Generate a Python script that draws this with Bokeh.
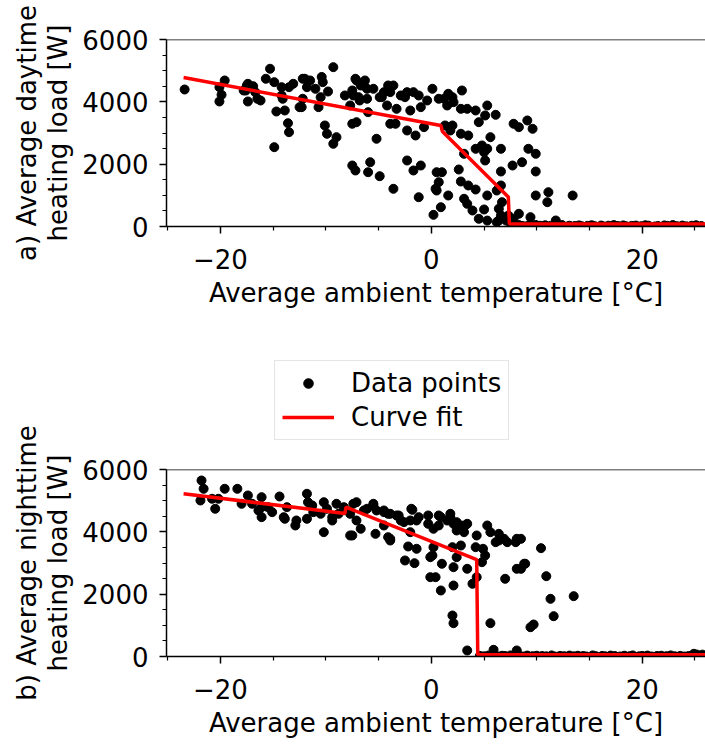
from bokeh.plotting import figure
from bokeh.models import Range1d, FixedTicker, Span, Legend, LegendItem, GridBox
from bokeh.embed import file_html
from bokeh.resources import INLINE

FONT = "DejaVu Sans"
FS = "26px"

# ---- axes ----
x_range_vals = (-25.12, 26.0)
y_range_vals = (0, 6000)
x_major = [-20, 0, 20]
x_major_labels = ["\u221220", "0", "20"]
x_minor = [-25, -15, -10, -5, 5, 10, 15, 25]
y_major = [0, 2000, 4000, 6000]
y_minor = [500, 1000, 1500, 2500, 3000, 3500, 4500, 5000, 5500]

x_title = "Average ambient temperature [\u00b0C]"
day_ylabel = "a) Average daytime\nheating load [W]"
night_ylabel = "b) Average nighttime\nheating load [W]"
legend_labels = ["Data points", "Curve fit"]

# ---- a) daytime data (temperature [°C], load [W]) ----
day_points = [
    (-23.4, 4396), (-20.1, 4470), (-19.6, 4685), (-19.9, 4226), (-20.1, 4011),
    (-17.4, 4579), (-17.6, 4364), (-16.9, 4502), (-17.4, 4011), (-16.5, 4098),
    (-16.2, 4043), (-15.3, 5061), (-15.7, 4740), (-14.9, 4631), (-14.2, 4470),
    (-13.5, 4470), (-13.1, 4579), (-14.1, 4098), (-14.7, 3690), (-13.9, 3722),
    (-13.6, 3315), (-13.5, 3026), (-14.9, 2545), (-12.2, 4740), (-12.5, 3829),
    (-12.2, 4098), (-17.5, 4525), (-17.8, 4364), (-16.7, 4311), (-14.2, 4204),
    (-9.3, 5112), (-12.0, 4740), (-11.5, 4685), (-11.8, 4470), (-11.0, 4419),
    (-10.4, 4798), (-10.3, 4631), (-9.8, 4332), (-10.5, 4150), (-10.7, 3829),
    (-12.3, 3829), (-10.1, 3241), (-9.9, 2975), (-9.0, 2866), (-9.3, 2654),
    (-8.2, 4204), (-7.5, 4364), (-7.2, 4740), (-6.3, 4685), (-6.7, 4525),
    (-6.1, 4419), (-5.5, 4419), (-6.9, 4150), (-6.1, 4098), (-7.7, 3883),
    (-6.0, 3668), (-7.5, 3296), (-7.1, 3347), (-5.2, 2815), (-7.5, 1957),
    (-7.2, 1797), (-5.8, 2063), (-6.0, 1742), (-4.9, 1614), (-3.6, 1210),
    (-4.7, 4150), (-3.9, 4311), (-3.6, 4525), (-2.9, 4204), (-2.3, 4311),
    (-1.7, 4311), (-1.2, 4204), (-4.2, 3883), (-3.3, 3776), (-2.0, 3722),
    (-1.0, 3829), (0.1, 4419), (0.7, 4098), (-3.4, 3296), (-2.3, 3081),
    (-1.5, 2920), (-0.7, 3187), (-2.3, 2118), (-1.7, 1797), (-1.0, 1957),
    (-1.2, 940), (0.2, 375), (0.5, 1742), (0.7, 1422), (0.5, 1155),
    (-7.1, 4685), (-6.4, 4525), (-7.4, 4204), (-6.8, 4043), (-4.9, 4150),
    (-4.5, 4311), (-4.1, 4525), (-2.5, 4150), (-0.4, 4043), (-3.9, 3296),
    (1.2, 4098), (1.6, 4258), (2.0, 4150), (2.1, 3990), (1.5, 3883),
    (2.9, 4364), (2.8, 3776), (3.4, 3776), (4.2, 3722), (5.3, 3883),
    (6.1, 3584), (5.1, 3562), (4.5, 3347), (1.3, 3241), (2.0, 3241),
    (1.8, 3081), (2.8, 2975), (3.5, 2920), (7.8, 3296), (8.3, 3187),
    (9.1, 3402), (9.6, 3135), (5.6, 2866), (4.2, 2493), (4.8, 2599),
    (5.3, 2493), (5.0, 2384), (3.1, 2333), (6.6, 2493), (5.1, 2118),
    (9.2, 2493), (9.9, 2333), (7.7, 1957), (8.6, 2063), (6.6, 1765),
    (9.9, 1765), (2.6, 1829), (1.0, 1742), (0.4, 1210), (2.8, 1444),
    (3.5, 1316), (4.2, 1187), (6.6, 1316), (6.2, 1155), (1.6, 995),
    (0.9, 619), (3.1, 889), (3.4, 728), (3.9, 513), (4.5, 247),
    (5.3, 995), (5.0, 546), (6.7, 780), (6.4, 568), (6.6, 353),
    (6.4, 193), (8.3, 408), (9.4, 300), (9.9, 995), (11.1, 1101),
    (11.0, 780), (13.4, 995), (11.8, 193), (7.3, 353), (5.3, 190),
    (6.2, 140), (7.1, 190), (7.8, 250),
]
day_zero_temp = [7.6, 7.9, 8.3, 8.6, 8.8, 9.2, 9.5, 9.9, 10.3, 10.6,
                 10.8, 11.3, 11.7, 12.0, 12.4, 12.9, 13.1, 13.6, 14.0, 14.3,
                 14.8, 15.2, 15.5, 16.1, 16.4, 16.8, 17.3, 17.7, 18.2, 18.5,
                 19.0, 19.4, 19.9, 20.3, 20.6, 21.2, 21.5, 22.1, 22.4, 22.9,
                 23.3, 23.8, 24.2, 24.7, 25.1, 25.6]
day_zero_load = [30, 10, 45, 20, 0, 35, 15, 50, 25, 5,
                 40, 20, 10, 30, 45, 0, 25, 15, 35, 5,
                 20, 40, 10, 30, 0, 25, 45, 15, 35, 5,
                 20, 30, 10, 40, 25, 0, 15, 35, 20, 45,
                 10, 30, 5, 25, 40, 15]
day_fit_temp = [-23.5, 0.9, 1.05, 7.3, 7.4, 26.0]
day_fit_load = [4780, 3240, 3050, 950, 80, 80]

# ---- b) nighttime data ----
night_points = [
    (-21.8, 5648), (-21.6, 5381), (-21.9, 5006), (-20.8, 5061), (-20.2, 5061),
    (-20.5, 4740), (-19.6, 5381), (-18.4, 5381), (-18.0, 4900), (-17.4, 5167),
    (-17.0, 4900), (-16.1, 5112), (-16.1, 4791), (-16.4, 4685), (-16.1, 4470),
    (-15.5, 4791), (-15.1, 4631), (-14.4, 5134), (-13.7, 4791), (-14.0, 4470),
    (-13.9, 4419), (-12.8, 4364), (-12.9, 4204), (-11.8, 5221), (-11.7, 4951),
    (-11.8, 4419), (-11.2, 4631), (-11.3, 4846), (-10.2, 4951), (-9.9, 4740),
    (-10.5, 4579), (-9.4, 4470), (-9.4, 4364), (-9.0, 4900), (-8.3, 4791),
    (-8.8, 4579), (-10.2, 3989), (-7.7, 3883), (-7.4, 4900),
    (-2.2, 3530), (-1.4, 3456), (-2.5, 3081), (-1.6, 2994), (-0.1, 3187),
    (-0.1, 2545), (-7.1, 4951), (-6.4, 4685), (-5.5, 4846), (-5.3, 3936),
    (-4.5, 4685), (-4.1, 4579), (-3.9, 3776), (-3.3, 4525), (-1.8, 4707),
    (-2.6, 4310), (-1.4, 4364), (-7.7, 4579), (-7.1, 4364), (-6.7, 4098),
    (-7.5, 3883), (-6.1, 4740), (-5.5, 4900), (-5.2, 4685), (-4.5, 4631),
    (-3.9, 4579), (-3.1, 4525), (-2.9, 4364), (-4.5, 4204), (-4.1, 3829),
    (-3.9, 3722), (-1.9, 4740), (-2.0, 4364), (-1.2, 4470), (-2.0, 3989),
    (-0.3, 4525), (-0.3, 4258), (0.2, 4098), (0.9, 4470), (0.7, 4204),
    (1.8, 4470), (2.1, 4258), (2.4, 4043), (3.2, 4204), (3.1, 3989),
    (0.7, 4525), (1.5, 4364), (1.8, 4579), (2.4, 4310), (2.8, 4204),
    (3.4, 4258), (6.1, 3668), (6.4, 3722), (6.9, 3776), (7.2, 3668),
    (0.2, 3508), (0.1, 3241), (1.0, 2975), (2.0, 3508), (2.8, 3562),
    (2.1, 2866), (2.4, 3187), (3.4, 2814), (0.4, 2545), (0.9, 2118),
    (2.1, 2278), (3.9, 2333), (4.3, 2545), (4.2, 3508), (4.3, 3883),
    (5.3, 4204), (5.6, 3989), (6.4, 3936), (8.1, 3776), (8.0, 3668),
    (4.9, 3456), (5.1, 3241), (4.8, 3026), (7.0, 2493), (8.1, 2814),
    (8.8, 2975), (2.0, 1316), (2.1, 1069), (5.6, 1069), (3.4, 193),
    (5.9, 215), (8.1, 193), (8.5, 3776), (8.9, 2975), (8.5, 2814),
    (10.4, 3476), (10.9, 2577), (11.3, 1851), (11.6, 1293), (13.5, 1936),
    (9.4, 940), (9.7, 1027), (24.9, 87), (25.2, 60), (25.7, 60),
]
night_zero_temp = [4.6, 5.0, 5.4, 5.8, 6.3, 6.7, 7.0, 7.5, 7.9, 8.4,
                   8.8, 9.1, 9.6, 10.0, 10.5, 10.9, 11.4, 11.7, 12.2, 12.6,
                   13.1, 13.5, 13.9, 14.4, 14.7, 15.3, 15.6, 16.2, 16.5, 17.0,
                   17.4, 17.9, 18.3, 18.8, 19.1, 19.7, 20.0, 20.5, 20.9, 21.4,
                   21.8, 22.3, 22.7, 23.1, 23.6, 24.0, 24.4]
night_zero_load = [20, 5, 30, 10, 0, 25, 15, 35, 5, 20,
                   0, 30, 10, 25, 15, 5, 35, 0, 20, 10,
                   30, 5, 25, 15, 0, 35, 10, 20, 5, 30,
                   15, 0, 25, 10, 35, 5, 20, 30, 0, 15,
                   25, 10, 35, 5, 20, 0, 15]
night_fit_temp = [-23.5, -8.2, -8.1, 4.3, 4.4, 26.0]
night_fit_load = [5220, 4590, 4790, 3110, 60, 60]


def make_panel(height, top, bottom, ylabel, points, zt, zl, ft, fl):
    p = figure(width=705, height=height,
               x_range=Range1d(*x_range_vals), y_range=Range1d(*y_range_vals),
               toolbar_location=None, output_backend="svg",
               min_border_left=166, min_border_right=0,
               min_border_top=top, min_border_bottom=bottom)
    p.background_fill_color = "white"
    p.border_fill_color = "white"
    p.outline_line_color = None
    p.grid.visible = False

    xs = [pt[0] for pt in points] + list(zt)
    ys = [pt[1] for pt in points] + list(zl)
    p.scatter(xs, ys, size=9, color="black", line_color="black")
    p.line(ft, fl, line_color="red", line_width=3.5)

    p.add_layout(Span(location=y_range_vals[1], dimension="width",
                      line_color="black", line_width=1.5))

    p.xaxis.ticker = FixedTicker(ticks=x_major, minor_ticks=x_minor)
    p.xaxis.major_label_overrides = dict(zip(x_major, x_major_labels))
    p.yaxis.ticker = FixedTicker(ticks=y_major, minor_ticks=y_minor)
    for ax in (p.xaxis[0], p.yaxis[0]):
        ax.axis_line_width = 1.5
        ax.axis_line_color = "black"
        ax.major_tick_line_width = 1.5
        ax.minor_tick_line_width = 1.2
        ax.major_tick_out = 7
        ax.major_tick_in = 0
        ax.minor_tick_out = 4
        ax.minor_tick_in = 0
        ax.major_label_text_font = FONT
        ax.major_label_text_font_size = FS
        ax.major_label_text_color = "black"
        ax.axis_label_text_font = FONT
        ax.axis_label_text_font_size = FS
        ax.axis_label_text_font_style = "normal"
        ax.axis_label_text_color = "black"
        ax.axis_label_text_line_height = 1.05
    p.xaxis.major_label_standoff = 15
    p.xaxis.axis_label_standoff = 6
    p.yaxis.major_label_standoff = 11
    p.yaxis.axis_label_standoff = 6
    p.xaxis.axis_label = x_title
    p.yaxis.axis_label = ylabel
    p.yaxis.major_label_orientation = "horizontal"
    return p


p1 = make_panel(330, 39, 104, day_ylabel, day_points,
                day_zero_temp, day_zero_load, day_fit_temp, day_fit_load)
p2 = make_panel(414, 139, 88, night_ylabel, night_points,
                night_zero_temp, night_zero_load, night_fit_temp, night_fit_load)

# ---- legend, drawn on a transparent figure laid over the top of p2 ----
pl = figure(width=705, height=108, x_range=Range1d(0, 1), y_range=Range1d(0, 1),
            toolbar_location=None, output_backend="svg",
            min_border_left=0, min_border_right=0, min_border_top=0,
            min_border_bottom=0)
pl.axis.visible = False
pl.grid.visible = False
pl.outline_line_color = None
pl.background_fill_alpha = 0
pl.border_fill_alpha = 0
r_pts = pl.scatter(x=[-5], y=[-5], size=9, color="black")
r_fit = pl.line(x=[-5, -4], y=[-5, -4], line_color="red", line_width=3.5)
legend = Legend(items=[LegendItem(label=legend_labels[0], renderers=[r_pts]),
                       LegendItem(label=legend_labels[1], renderers=[r_fit])],
                location=(108, 9), orientation="vertical",
                border_line_color="#cccccc", border_line_width=1.5,
                background_fill_color="white", background_fill_alpha=1.0,
                label_text_font=FONT, label_text_font_size=FS,
                label_text_color="black",
                glyph_width=52, glyph_height=24, label_height=30,
                label_standoff=17, padding=7, spacing=4, margin=0)
pl.add_layout(legend)

layout = GridBox(children=[(p1, 0, 0), (p2, 1, 0), (pl, 1, 0)], spacing=0)
open("out.html", "w").write(file_html(layout, INLINE))
